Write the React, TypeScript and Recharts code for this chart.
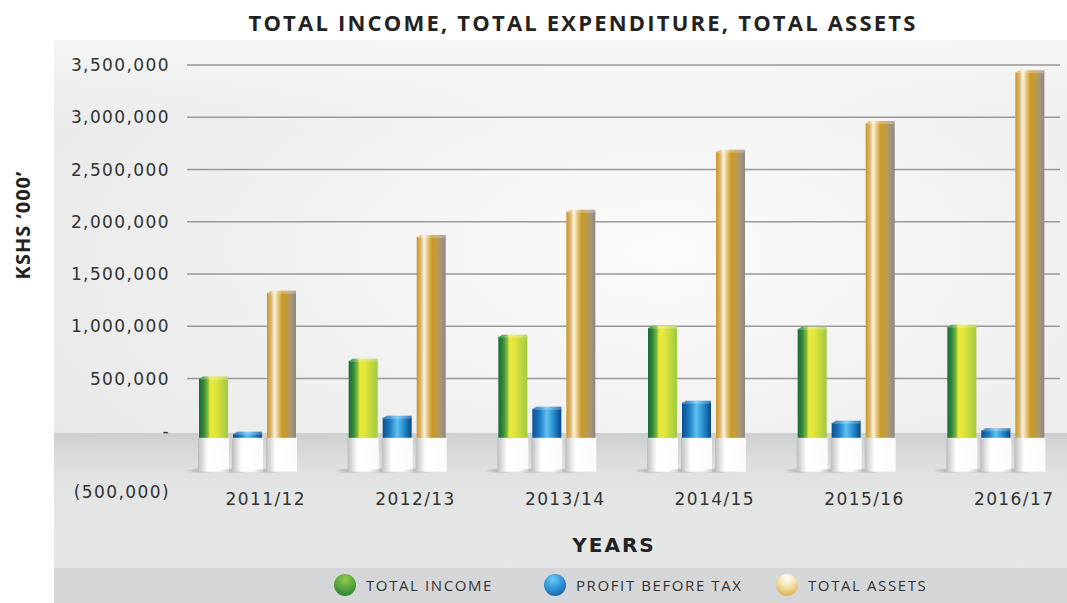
import { BarChart, Bar, XAxis, YAxis, CartesianGrid } from "recharts";

const years = ["2011/12", "2012/13", "2013/14", "2014/15", "2015/16", "2016/17"];
const totalIncome = [500000, 670000, 900000, 985000, 975000, 995000];
const profitBeforeTax = [-29000, 125000, 210000, 268000, 76000, 5000];
const totalAssets = [1320000, 1855000, 2095000, 2670000, 2945000, 3430000];
const yTicks = [-500000, 0, 500000, 1000000, 1500000, 2000000, 2500000, 3000000, 3500000];
const legendItems = ["TOTAL INCOME", "PROFIT BEFORE TAX", "TOTAL ASSETS"];

const data = years.map((year, i) => ({
  year,
  income: totalIncome[i],
  profit: profitBeforeTax[i],
  assets: totalAssets[i],
}));

const gridValues = yTicks.filter((t) => t > 0);
const DEPTH = 7;

function fmtTick(v: number) {
  if (v === 0) return "-";
  if (v < 0) return `(${Math.abs(v).toLocaleString("en-US")})`;
  return v.toLocaleString("en-US");
}

function YTick(props: any) {
  const { x, y, payload } = props;
  const v = payload.value;
  return (
    <text
      x={x}
      y={y}
      dy={v < 0 ? 15 : 6}
      textAnchor="end"
      fill="#333"
      fontSize={17}
      letterSpacing={1.4}
      fontFamily="'DejaVu Sans', sans-serif"
    >
      {fmtTick(v)}
    </text>
  );
}

function XTick(props: any) {
  const { x, y, payload } = props;
  return (
    <text
      x={x + 18}
      y={y}
      dy={22}
      textAnchor="middle"
      fill="#333"
      fontSize={17}
      letterSpacing={1.4}
      fontFamily="'DejaVu Sans', sans-serif"
    >
      {payload.value}
    </text>
  );
}

function Bar3D(props: any) {
  const { x, y, width, height, payload, k, grad } = props;
  const raw = payload ? payload[k] : 0;
  const top = Math.min(y, y + height);
  const bot = Math.max(y, y + height);
  const neg = raw < 0;
  const vy = neg ? bot : top;
  const zy = neg ? top : bot;
  const faceBottom = zy + DEPTH;
  return (
    <g>
      <ellipse cx={x + 1} cy={faceBottom + 33} rx={15} ry={3} fill="url(#shadowGrad)" />
      <rect x={x - 1} y={faceBottom} width={width + 2} height={34} fill="url(#pedestalGrad)" />
      <rect x={x} y={vy} width={width} height={faceBottom - vy} fill={`url(#${grad})`} />
      <polygon
        points={`${x},${vy + 1} ${x + 4},${vy - 2} ${x + width},${vy - 2} ${x + width},${vy + 1}`}
        fill={`url(#${grad})`}
      />
      <polygon
        points={`${x},${vy + 1} ${x + 4},${vy - 2} ${x + width},${vy - 2} ${x + width},${vy + 1}`}
        fill="#fff"
        opacity={0.25}
      />
    </g>
  );
}

const legendColors = [
  "radial-gradient(circle at 50% 25%, #93c947 0%, #5aa83f 45%, #1d7536 100%)",
  "radial-gradient(circle at 40% 25%, #6ccaf5 0%, #2a8fd3 50%, #0a4b8a 100%)",
  "radial-gradient(circle at 50% 20%, #ffffff 0%, #f5e2b0 40%, #d5a22a 100%)",
];
const legendX = [334, 544, 776];

export default function App() {
  return (
    <div
      style={{
        position: "absolute",
        left: 0,
        top: 0,
        width: 1067,
        height: 603,
        overflow: "hidden",
        background: "#fff",
      }}
    >
      <div
        style={{
          position: "absolute",
          left: 54,
          top: 40,
          width: 1013,
          height: 528,
          background:
            "linear-gradient(to bottom, rgba(0,0,0,0) 0px, rgba(0,0,0,0) 393px, #cdcecf 393px, #d9dada 415px, #e2e3e3 440px, #e6e7e7 528px), linear-gradient(to bottom, rgba(246,247,247,0.9) 0px, rgba(246,247,247,0) 90px), radial-gradient(ellipse 75% 70% at 60% 40%, #fbfbfb 0%, #f1f1f1 50%, #e6e7e7 100%)",
        }}
      />
      <div
        style={{
          position: "absolute",
          left: 54,
          top: 568,
          width: 1013,
          height: 35,
          background: "#d5d6d7",
        }}
      />
      {legendItems.map((name, i) => (
        <div key={name}>
          <div
            style={{
              position: "absolute",
              left: legendX[i],
              top: 574,
              width: 22,
              height: 22,
              borderRadius: "50%",
              background: legendColors[i],
            }}
          />
          <div
            style={{
              position: "absolute",
              left: legendX[i] + 32,
              top: 575,
              fontFamily: "'Open Sans', sans-serif",
              fontSize: 15,
              letterSpacing: 1.6,
              color: "#333",
              lineHeight: "20px",
            }}
          >
            {name}
          </div>
        </div>
      ))}
      <div
        style={{
          position: "absolute",
          left: 0,
          width: 1166,
          top: 7,
          textAlign: "center",
          fontFamily: "'Open Sans', sans-serif",
          fontWeight: 700,
          fontSize: 22,
          letterSpacing: 2.2,
          color: "#222",
          lineHeight: "30px",
        }}
      >
        TOTAL INCOME, TOTAL EXPENDITURE, TOTAL ASSETS
      </div>
      <div
        style={{
          position: "absolute",
          left: 22,
          top: 225,
          transform: "translate(-50%, -50%) rotate(-90deg)",
          fontFamily: "'Open Sans', sans-serif",
          fontWeight: 700,
          fontSize: 20,
          letterSpacing: 1,
          color: "#222",
          whiteSpace: "nowrap",
        }}
      >
        KSHS ‘000’
      </div>
      <div
        style={{
          position: "absolute",
          left: 614,
          top: 545,
          transform: "translate(-50%, -50%)",
          fontFamily: "'DejaVu Sans', sans-serif",
          fontWeight: 700,
          fontSize: 20,
          letterSpacing: 2,
          color: "#222",
        }}
      >
        YEARS
      </div>
      <div style={{ position: "absolute", left: 0, top: 0 }}>
        <BarChart
          width={1071}
          height={603}
          data={data}
          margin={{ top: 65, right: 0, bottom: 90, left: 0 }}
          barSize={29}
          barGap={5}
        >
          <defs>
            <linearGradient id="greenGrad" x1="0" y1="0" x2="1" y2="0">
              <stop offset="0%" stopColor="#1b6a33" />
              <stop offset="15%" stopColor="#2f8639" />
              <stop offset="30%" stopColor="#7db83d" />
              <stop offset="38%" stopColor="#ebe838" />
              <stop offset="55%" stopColor="#e4e63c" />
              <stop offset="100%" stopColor="#a1c93f" />
            </linearGradient>
            <linearGradient id="blueGrad" x1="0" y1="0" x2="1" y2="0">
              <stop offset="0%" stopColor="#0a4f92" />
              <stop offset="25%" stopColor="#1e7cc2" />
              <stop offset="50%" stopColor="#5ec2f1" />
              <stop offset="72%" stopColor="#2a90d3" />
              <stop offset="100%" stopColor="#074984" />
            </linearGradient>
            <linearGradient id="goldGrad" x1="0" y1="0" x2="1" y2="0">
              <stop offset="0%" stopColor="#c8962a" />
              <stop offset="14%" stopColor="#dcb56c" />
              <stop offset="26%" stopColor="#fbf3e1" />
              <stop offset="38%" stopColor="#e6c684" />
              <stop offset="52%" stopColor="#c99a24" />
              <stop offset="68%" stopColor="#c29b42" />
              <stop offset="84%" stopColor="#a79677" />
              <stop offset="100%" stopColor="#8b8883" />
            </linearGradient>
            <linearGradient id="pedestalGrad" x1="0" y1="0" x2="1" y2="0">
              <stop offset="0%" stopColor="#bcbdbe" />
              <stop offset="18%" stopColor="#e3e3e3" />
              <stop offset="32%" stopColor="#ffffff" />
              <stop offset="100%" stopColor="#fbfbfb" />
            </linearGradient>
            <radialGradient id="shadowGrad" cx="0.5" cy="0.5" r="0.5">
              <stop offset="0%" stopColor="#8a8a8a" stopOpacity={0.6} />
              <stop offset="100%" stopColor="#8a8a8a" stopOpacity={0} />
            </radialGradient>
          </defs>
          <CartesianGrid
            vertical={false}
            horizontalValues={gridValues}
            x={187}
            width={873}
            stroke="#999"
            strokeWidth={1.5}
          />
          <XAxis
            dataKey="year"
            axisLine={false}
            tickLine={false}
            tickSize={0}
            tickMargin={0}
            height={30}
            tick={<XTick />}
            interval={0}
          />
          <YAxis
            width={173}
            domain={[-500000, 3500000]}
            ticks={yTicks}
            axisLine={false}
            tickLine={false}
            tickSize={0}
            tickMargin={3}
            tick={<YTick />}
            interval={0}
          />
          <Bar
            dataKey="income"
            isAnimationActive={false}
            shape={(p: any) => <Bar3D {...p} k="income" grad="greenGrad" />}
          />
          <Bar
            dataKey="profit"
            isAnimationActive={false}
            shape={(p: any) => <Bar3D {...p} k="profit" grad="blueGrad" />}
          />
          <Bar
            dataKey="assets"
            isAnimationActive={false}
            shape={(p: any) => <Bar3D {...p} k="assets" grad="goldGrad" />}
          />
        </BarChart>
      </div>
    </div>
  );
}
